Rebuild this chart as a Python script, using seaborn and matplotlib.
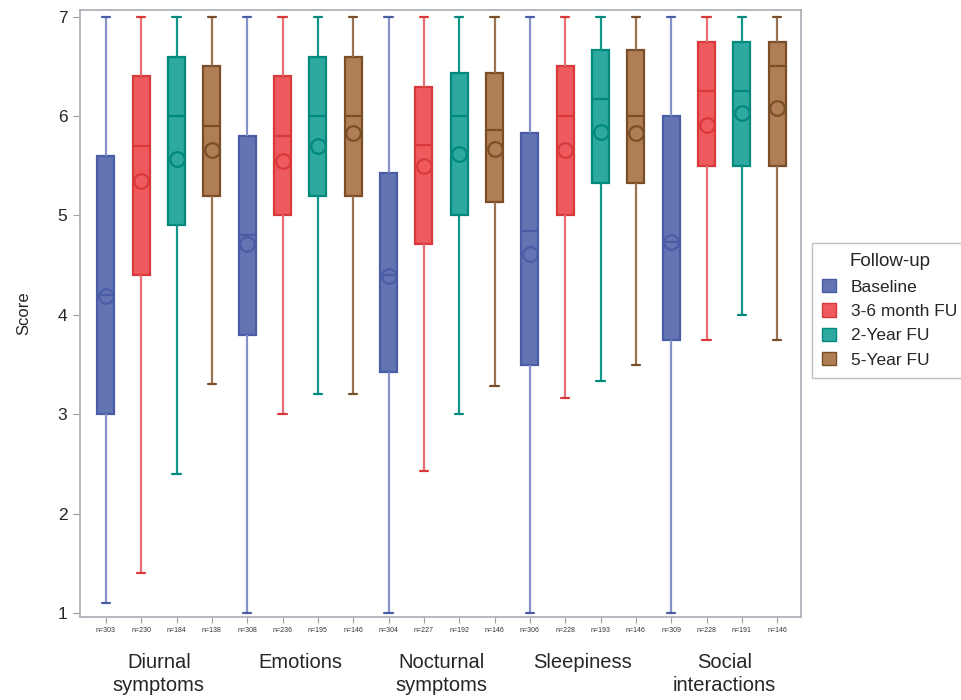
import numpy as np
import pandas as pd
import matplotlib
matplotlib.use("Agg")
import matplotlib.pyplot as plt
import seaborn as sns
from matplotlib.patches import Patch
from matplotlib.transforms import blended_transform_factory

groups = ["Diurnal\nsymptoms", "Emotions", "Nocturnal\nsymptoms", "Sleepiness", "Social\ninteractions"]
followups = ["Baseline", "3-6 month FU", "2-Year FU", "5-Year FU"]

# One entry per box, group-major, follow-up-minor
whisker_low = [1.1, 1.4, 2.4, 3.3,  1.0, 3.0, 3.2, 3.2,  1.0, 2.43, 3.0, 3.28,  1.0, 3.16, 3.33, 3.5,  1.0, 3.75, 4.0, 3.75]
q1 = [3.0, 4.4, 4.9, 5.2,  3.8, 5.0, 5.2, 5.2,  3.42, 4.71, 5.0, 5.14,  3.5, 5.0, 5.33, 5.33,  3.75, 5.5, 5.5, 5.5]
median = [4.2, 5.7, 6.0, 5.9,  4.8, 5.8, 6.0, 6.0,  4.4, 5.71, 6.0, 5.86,  4.84, 6.0, 6.17, 6.0,  4.73, 6.25, 6.25, 6.5]
q3 = [5.6, 6.4, 6.6, 6.5,  5.8, 6.4, 6.6, 6.6,  5.43, 6.29, 6.43, 6.43,  5.83, 6.5, 6.67, 6.67,  6.0, 6.75, 6.75, 6.75]
whisker_high = [7.0] * 20
means = [4.19, 5.35, 5.57, 5.66,  4.71, 5.55, 5.70, 5.83,  4.39, 5.50, 5.62, 5.67,  4.61, 5.66, 5.84, 5.83,  4.73, 5.91, 6.03, 6.08]
n_labels = ["n=303", "n=230", "n=184", "n=138", "n=308", "n=236", "n=195", "n=146",
            "n=304", "n=227", "n=192", "n=146", "n=306", "n=228", "n=193", "n=146",
            "n=309", "n=228", "n=191", "n=146"]

fills = ["#6374B2", "#EE5A5D", "#2EA99F", "#B07E55"]
edges = ["#4A5CA6", "#D8393C", "#00897C", "#7A4F27"]
whisk = ["#8492C9", "#E56F70", "#13968A", "#9A7251"]

rows, mrows = [], []
k = 0
for g in groups:
    for f in followups:
        for v in (whisker_low[k], q1[k], median[k], q3[k], whisker_high[k]):
            rows.append({"group": g, "followup": f, "score": v})
        mrows.append({"group": g, "followup": f, "mean": means[k]})
        k += 1
df = pd.DataFrame(rows)
mdf = pd.DataFrame(mrows)

sns.set_style("ticks")
plt.rcParams["font.family"] = ["Liberation Sans", "DejaVu Sans"]

fig, ax = plt.subplots(figsize=(9.61, 7.0), dpi=100)
fig.subplots_adjust(left=0.083, right=0.833, top=0.986, bottom=0.118)

sns.boxplot(data=df, x="group", y="score", hue="followup", order=groups, hue_order=followups,
            palette=fills, width=1.0, gap=0.52, whis=(0, 100), showfliers=False,
            linewidth=1.6, saturation=1, legend=False, ax=ax)

for i, cont in enumerate(ax.containers[:4]):
    for b in cont.boxes:
        b.set_facecolor(fills[i])
        b.set_edgecolor(edges[i])
        b.set_linewidth(1.6)
    for m in cont.medians:
        m.set_color(edges[i])
        m.set_linewidth(1.6)
    for w in cont.whiskers:
        w.set_color(whisk[i])
        w.set_linewidth(1.6)
    for c in cont.caps:
        c.set_color(edges[i])
        c.set_linewidth(1.6)

nl = len(ax.lines)
sns.pointplot(data=mdf, x="group", y="mean", hue="followup", order=groups, hue_order=followups,
              palette=edges, dodge=0.75, linestyle="none", markers="o", errorbar=None,
              legend=False, ax=ax, markersize=10.5, markeredgewidth=1.6)
for ln in ax.lines[nl:]:
    ln.set_markerfacecolor("none")

ax.set_xlim(-0.56, 4.54)
ax.set_ylim(0.955, 7.07)
ax.set_yticks(range(1, 8))
ax.tick_params(axis="y", labelsize=12.5, length=5, color="#A0A0A0", pad=4)

offsets = [-0.375 + 0.25 * h for h in range(len(followups))]
pos = [g + o for g in range(len(groups)) for o in offsets]
ax.set_xticks(pos)
ax.set_xticklabels(n_labels, fontsize=5, color="#333333")
ax.tick_params(axis="x", length=4, color="#A0A0A0", pad=3)
ax.set_xlabel("")
ax.set_ylabel("Score", fontsize=12, labelpad=19)

for s in ax.spines.values():
    s.set_visible(True)
    s.set_color("#A8ADB5")
    s.set_linewidth(1.2)

tr = blended_transform_factory(ax.transData, ax.transAxes)
for gi, g in enumerate(groups):
    ax.text(gi, -0.058, g, transform=tr, ha="center", va="top", fontsize=14.5, linespacing=1.3)

handles = [Patch(facecolor=fills[i], edgecolor=edges[i], linewidth=1.0) for i in range(4)]
fig.legend(handles, followups, title="Follow-up", loc="upper left",
           bbox_to_anchor=(812 / 961, 1 - 243 / 700), frameon=True, fancybox=False,
           edgecolor="#B0B0B0", fontsize=12.5, title_fontsize=13.5, handlelength=0.8,
           handleheight=0.8, handletextpad=0.85, borderpad=0.6, labelspacing=0.5,
           borderaxespad=0)

fig.savefig("out.png", dpi=100)
